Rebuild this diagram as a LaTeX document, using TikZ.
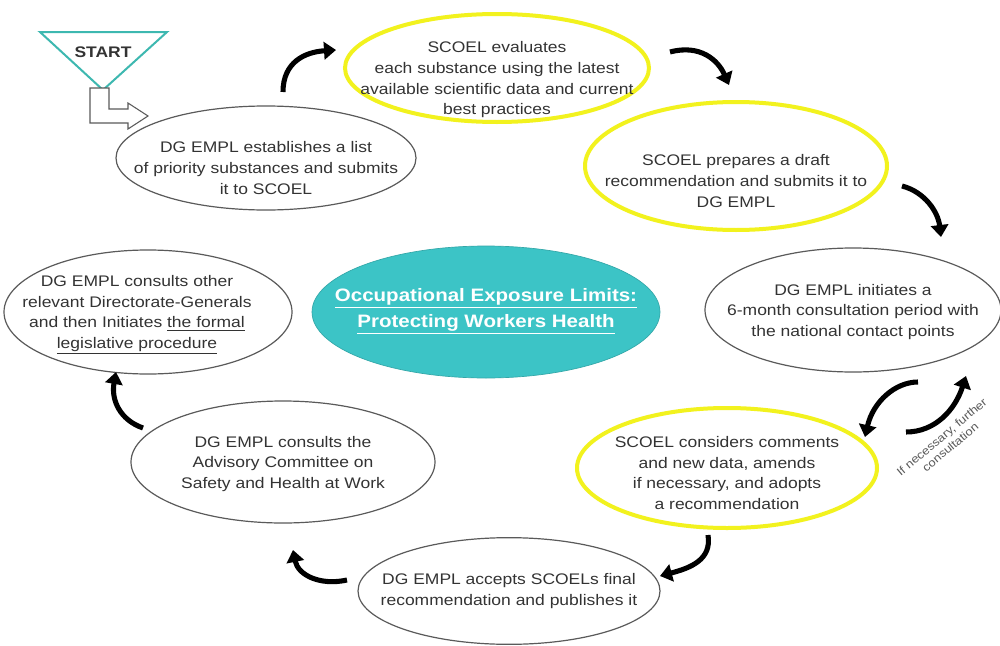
\documentclass[tikz,border=0pt]{standalone}
\usepackage{fontspec}
\setmainfont{Liberation Sans}[FakeStretch=1.14]
\usetikzlibrary{shapes.geometric,arrows.meta}
\definecolor{txtgray}{HTML}{333333}
\definecolor{ovalgray}{HTML}{5A5A5A}
\definecolor{ylw}{HTML}{F2F21E}
\definecolor{teal1}{HTML}{3CC4C6}
\definecolor{tealline}{HTML}{3DB8B0}
\begin{document}
\begin{tikzpicture}[x=0.75pt,y=-0.75pt,
  oval/.style={ellipse, draw=ovalgray, line width=0.9pt, inner sep=0pt},
  yoval/.style={ellipse, draw=ylw, line width=3pt, inner sep=0pt},
  txt/.style={align=center, text=txtgray, inner sep=0pt, font=\fontsize{11.5}{15.5}\selectfont},
  carrow/.style={line width=3.8pt, black, -{Triangle[width=13pt,length=9pt]}},
]
\useasboundingbox[fill=white] (0,0) rectangle (1000,646);

% start
\coordinate (st1) at (40,32); \coordinate (st2) at (167,32); \coordinate (st3) at (103,90);
\draw[tealline, line width=1.5pt, fill=white] (st1) -- (st2) -- (st3) -- cycle;
\node[font=\fontsize{11.5}{12}\selectfont\bfseries, text=txtgray] (starttxt) at (103,52) {START};
\draw[ovalgray, line width=0.8pt, fill=white] (90,88) -- (109,88) -- (109,109) -- (128,109) -- (128,103) -- (148,116) -- (128,129) -- (128,123) -- (90,123) -- cycle;

% ellipses
\node[oval, minimum width=225pt, minimum height=78pt] (e1) at (266,158) {};
\node[txt] (t1) at (266,168) {DG EMPL establishes a list\\of priority substances and submits\\it to SCOEL};

\node[yoval, minimum width=228pt, minimum height=81pt] (e2) at (497,68) {};
\node[txt] (t2) at (497,80) {SCOEL evaluates\\each substance using the latest\\available scientific data and current\\best practices};

\node[yoval, minimum width=226.5pt, minimum height=96pt] (e3) at (736,166) {};
\node[txt] (t3) at (736,181) {SCOEL prepares a draft\\recommendation and submits it to\\DG EMPL};

\node[oval, minimum width=222pt, minimum height=93pt] (e4) at (853,310) {};
\node[txt] (t4) at (853,312) {DG EMPL initiates a\\6-month consultation period with\\the national contact points};

\node[yoval, minimum width=225pt, minimum height=90pt] (e5) at (727,468) {};
\node[txt] (t5) at (727,473) {SCOEL considers comments\\and new data, amends\\if necessary, and adopts\\a recommendation};

\node[oval, minimum width=226.5pt, minimum height=80pt] (e6) at (509,591) {};
\node[txt] (t6) at (509,591) {DG EMPL accepts SCOELs final\\recommendation and publishes it};

\node[oval, minimum width=228pt, minimum height=91.5pt] (e7) at (283,462) {};
\node[txt] (t7) at (283,464) {DG EMPL consults the\\Advisory Committee on\\Safety and Health at Work};

\node[oval, minimum width=216pt, minimum height=93pt] (e8) at (148,312) {};
\node[txt] (t8) at (137,315) {DG EMPL consults other\\relevant Directorate-Generals\\and then Initiates \underline{the formal}\\\underline{legislative procedure}};

\node[ellipse, fill=teal1, draw=teal1!85!black, line width=0.5pt, minimum width=261pt, minimum height=99pt] (center) at (486,312) {};
\node[align=center, text=white, inner sep=0pt, font=\fontsize{13.5}{19.5}\selectfont\bfseries] (title) at (486,311) {\underline{Occupational Exposure Limits:}\\\underline{Protecting Workers Health}};

% note
\node[rotate=40, align=center, text=ovalgray, inner sep=0pt, font=\fontsize{8.5}{10}\selectfont] (note) at (946,442) {If necessary, further\\consultation};

% curved arrows
\coordinate (a1s) at (283,92); \coordinate (a1e) at (336,50);
\coordinate (a2s) at (670,52); \coordinate (a2e) at (729,85);
\coordinate (a3s) at (902,186); \coordinate (a3e) at (941,237);
\coordinate (a4s) at (918,382); \coordinate (a4e) at (865,437);
\coordinate (a5s) at (906,432); \coordinate (a5e) at (966,376);
\coordinate (a6s) at (708,535); \coordinate (a6e) at (660,576);
\coordinate (a7s) at (347,580); \coordinate (a7e) at (293,550);
\coordinate (a8s) at (143,428); \coordinate (a8e) at (116,372);
\draw[carrow] (a1s) .. controls (283,62) and (305,52) .. (a1e);
\draw[carrow] (a2s) .. controls (700,44) and (718,60) .. (a2e);
\draw[carrow] (a3s) .. controls (925,192) and (938,212) .. (a3e);
\draw[carrow] (a4s) .. controls (895,382) and (873,402) .. (a4e);
\draw[carrow] (a5s) .. controls (935,432) and (955,410) .. (a5e);
\draw[carrow] (a6s) .. controls (712,560) and (690,568) .. (a6e);
\draw[carrow] (a7s) .. controls (320,586) and (298,575) .. (a7e);
\draw[carrow] (a8s) .. controls (120,420) and (111,400) .. (a8e);
\end{tikzpicture}
\end{document}
